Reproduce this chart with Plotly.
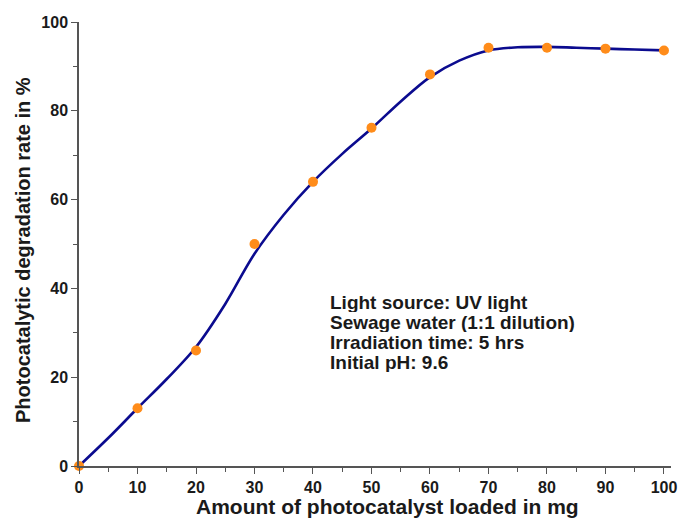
import plotly.graph_objects as go

# measured points
amount_mg = [0, 10, 20, 30, 40, 50, 60, 70, 80, 90, 100]
degradation_pct = [0, 13, 26, 50, 64, 76.2, 88.2, 94.2, 94.2, 94.0, 93.6]

# fitted curve
fit_x = [0, 5, 10, 15, 20, 25, 30, 35, 40, 45, 50, 55, 60, 65, 70, 75, 80, 85, 90, 95, 100]
fit_y = [0, 6.3, 13, 19.6, 26.8, 36.5, 47.8, 56.6, 64, 70.3, 76, 82.1, 87.6, 91.3, 93.6, 94.3, 94.4, 94.2, 94.0, 93.8, 93.6]

x_ticks = [0, 10, 20, 30, 40, 50, 60, 70, 80, 90, 100]
y_ticks = [0, 20, 40, 60, 80, 100]

x_title = "Amount of photocatalyst loaded in mg"
y_title = "Photocatalytic degradation rate in %"
info_lines = ["Light source: UV light", "Sewage water (1:1 dilution)",
              "Irradiation time: 5 hrs", "Initial pH: 9.6"]

FONT = "Liberation Sans, Arial, sans-serif"
TXT = "#1a1a1a"
AX = "#555555"

L, R, T, B = 79, 9, 22, 53
W, H = 680, 519
PW, PH = W - L - R, H - T - B


def px_x(px):
    return (px - L) / PW


def px_y(py):
    return (H - B - py) / PH


fig = go.Figure()
fig.add_trace(go.Scatter(x=fit_x, y=fit_y, mode="lines",
                         line=dict(color="#0b0b8f", width=2.6, shape="spline", smoothing=1.0),
                         hoverinfo="skip", showlegend=False, cliponaxis=False))
fig.add_trace(go.Scatter(x=amount_mg, y=degradation_pct, mode="markers",
                         marker=dict(color="#ff8c1a", size=10), showlegend=False, cliponaxis=False))

line_centres_px = [302, 322, 342, 362]
for txt, ypx in zip(info_lines, line_centres_px):
    fig.add_annotation(x=px_x(329), y=px_y(ypx), xref="paper", yref="paper",
                       xanchor="left", yanchor="middle", text="<b>" + txt + "</b>",
                       showarrow=False, align="left", height=19, borderpad=0,
                       font=dict(family=FONT, size=19, color=TXT))

# axis titles
fig.add_annotation(x=px_x(387), y=px_y(506), xref="paper", yref="paper",
                   xanchor="center", yanchor="middle", text="<b>" + x_title + "</b>",
                   showarrow=False, height=23, borderpad=0,
                   font=dict(family=FONT, size=21, color=TXT))
fig.add_annotation(x=px_x(23), y=px_y(250), xref="paper", yref="paper",
                   xanchor="center", yanchor="middle", text="<b>" + y_title + "</b>",
                   textangle=-90, showarrow=False, font=dict(family=FONT, size=20, color=TXT))

axis_common = dict(showgrid=False, zeroline=False, showline=True, linecolor=AX, linewidth=1.5,
                   ticks="outside", ticklen=6, tickwidth=1.3, tickcolor=AX, automargin=False,
                   tickfont=dict(family=FONT, size=16, color=TXT))

fig.update_xaxes(range=[0, 101.2], tickvals=x_ticks, ticktext=["<b>%d</b>" % v for v in x_ticks],
                 minor=dict(dtick=5, tick0=0, ticks="outside", ticklen=4, tickcolor=AX, tickwidth=1.3),
                 **axis_common)
fig.update_yaxes(range=[0, 100], tickvals=y_ticks, ticktext=["<b>%d</b>" % v for v in y_ticks],
                 minor=dict(dtick=10, tick0=0, ticks="outside", ticklen=4, tickcolor=AX, tickwidth=1.3),
                 **axis_common)

fig.update_layout(width=W, height=H, margin=dict(l=L, r=R, t=T, b=B),
                  plot_bgcolor="white", paper_bgcolor="white",
                  font=dict(family=FONT, color=TXT))

fig.write_html("out.html", post_script="document.body.style.margin='0';",
               config={"displayModeBar": False})
